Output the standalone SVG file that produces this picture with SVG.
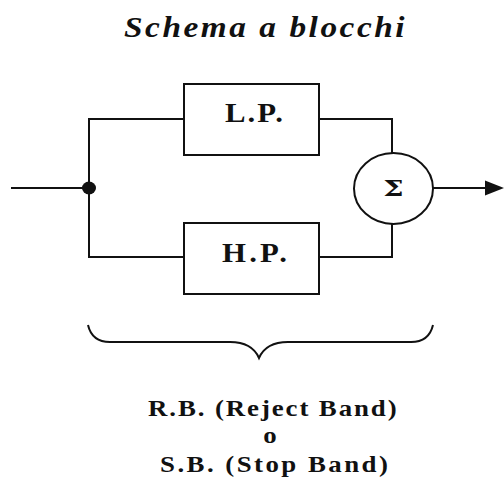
<svg xmlns="http://www.w3.org/2000/svg" width="504" height="479" viewBox="0 0 504 479">
  <style>
    .ln { fill: none; stroke: #111; stroke-width: 2; }
    .box { fill: #fff; stroke: #111; stroke-width: 2; }
    .txt { font-family: "Liberation Serif", "Times New Roman", serif; font-weight: bold; fill: #111; }
  </style>
  <rect width="504" height="479" fill="#fff"/>

  <!-- title -->
  <text class="txt" transform="translate(124,37) scale(1.15,1)" font-size="29" font-style="italic" textLength="244" lengthAdjust="spacing">Schema a blocchi</text>

  <!-- connectors -->
  <g id="connectors">
    <line class="ln" x1="11" y1="188" x2="89" y2="188"/>
    <polyline class="ln" points="184,119 89,119 89,257 184,257"/>
    <polyline class="ln" points="319,119 392,119 392,153"/>
    <polyline class="ln" points="319,257 392,257 392,224"/>
    <line class="ln" x1="433" y1="188" x2="486" y2="188"/>
    <path d="M485,180.5 L504,188 L485,195.5 Z" fill="#111"/>
    <ellipse cx="89" cy="188" rx="7" ry="6.5" fill="#111"/>
  </g>

  <g id="lp">
    <rect class="box" x="184" y="84" width="135" height="71"/>
    <text class="txt" transform="translate(225,122) scale(1.1,1)" font-size="28" textLength="52.7" lengthAdjust="spacing">L.P.</text>
  </g>

  <g id="hp">
    <rect class="box" x="184" y="223" width="135" height="71"/>
    <text class="txt" transform="translate(222,262) scale(1.1,1)" font-size="28" textLength="59" lengthAdjust="spacing">H.P.</text>
  </g>

  <g id="sum">
    <ellipse class="box" cx="393.5" cy="188.5" rx="39.5" ry="35.5"/>
    <text transform="translate(393.5,196) scale(1.25,1)" font-family="'DejaVu Serif', 'Liberation Serif', serif" font-weight="bold" font-size="23" fill="#111" text-anchor="middle">Σ</text>
  </g>

  <!-- brace under both branches -->
  <g id="brace">
    <path class="ln" d="M88,325 Q92,342 110,342 L230,342 Q252,342 259,358 Q266,342 288,342 L411,342 Q429,342 433,325"/>
  </g>

  <g id="caption">
    <text class="txt" transform="translate(148,416) scale(1.12,1)" font-size="24" textLength="222" lengthAdjust="spacing">R.B. (Reject Band)</text>
    <text class="txt" transform="translate(270,443) scale(1.12,1)" font-size="24" text-anchor="middle">o</text>
    <text class="txt" transform="translate(160,472) scale(1.12,1)" font-size="24" textLength="203.5" lengthAdjust="spacing">S.B. (Stop Band)</text>
  </g>
</svg>
